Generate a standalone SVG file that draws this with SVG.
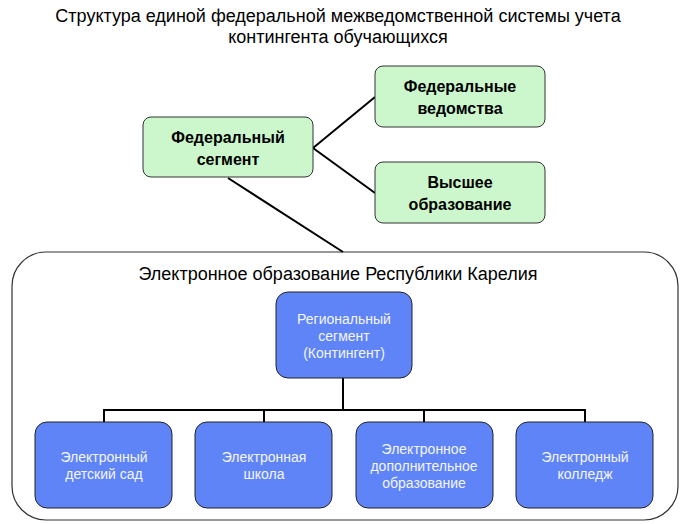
<svg xmlns="http://www.w3.org/2000/svg" width="687" height="524" viewBox="0 0 687 524">
<style>
text{font-family:"Liberation Sans",Arial,sans-serif;text-anchor:middle}
.g{fill:#ccf7cc;stroke:#333;stroke-width:1}
.b{fill:#5f84f7;stroke:#222;stroke-width:1}
.gt{font-size:16px;font-weight:bold;fill:#000}
.bt{font-size:14px;fill:#f4f6ff}
.c{stroke:#000;stroke-width:2;fill:none}
</style>
<rect width="687" height="524" fill="#fff"/>
<text x="338" y="22" font-size="18">Структура единой федеральной межведомственной системы учета</text>
<text x="338" y="43" font-size="18">контингента обучающихся</text>
<g id="container"><rect x="12" y="252" width="666" height="268" rx="34" fill="#fff" stroke="#333" stroke-width="1.2"/>
<text x="338" y="280" font-size="18">Электронное образование Республики Карелия</text></g>
<g id="connectors">
<path class="c" d="M313 148L375 97M313 148L375 193M228 178L343 252"/>
<path class="c" d="M343 378V410M104 410H585M104 409V422M264 409V422M424 409V422M585 409V422"/>
</g>
<g id="fed"><rect class="g" x="143" y="117" width="170" height="60" rx="8"/><text class="gt" x="228" y="143">Федеральный</text><text class="gt" x="228" y="165">сегмент</text></g>
<g id="ved"><rect class="g" x="375" y="66" width="170" height="61" rx="8"/><text class="gt" x="460" y="92">Федеральные</text><text class="gt" x="460" y="114">ведомства</text></g>
<g id="vys"><rect class="g" x="375" y="162" width="170" height="61" rx="8"/><text class="gt" x="460" y="188">Высшее</text><text class="gt" x="460" y="210">образование</text></g>
<g id="reg"><rect class="b" x="276" y="292" width="136" height="86" rx="12"/><text class="bt" x="344" y="324">Региональный</text><text class="bt" x="344" y="341">сегмент</text><text class="bt" x="344" y="358">(Контингент)</text></g>
<g id="sad"><rect class="b" x="35" y="422" width="137" height="86" rx="12"/><text class="bt" x="104" y="462">Электронный</text><text class="bt" x="104" y="479">детский сад</text></g>
<g id="shk"><rect class="b" x="195" y="422" width="137" height="86" rx="12"/><text class="bt" x="264" y="462">Электронная</text><text class="bt" x="264" y="479">школа</text></g>
<g id="dop"><rect class="b" x="356" y="422" width="137" height="86" rx="12"/><text class="bt" x="424" y="454">Электронное</text><text class="bt" x="424" y="471">дополнительное</text><text class="bt" x="424" y="488">образование</text></g>
<g id="kol"><rect class="b" x="516" y="422" width="137" height="86" rx="12"/><text class="bt" x="585" y="462">Электронный</text><text class="bt" x="585" y="479">колледж</text></g>
</svg>
